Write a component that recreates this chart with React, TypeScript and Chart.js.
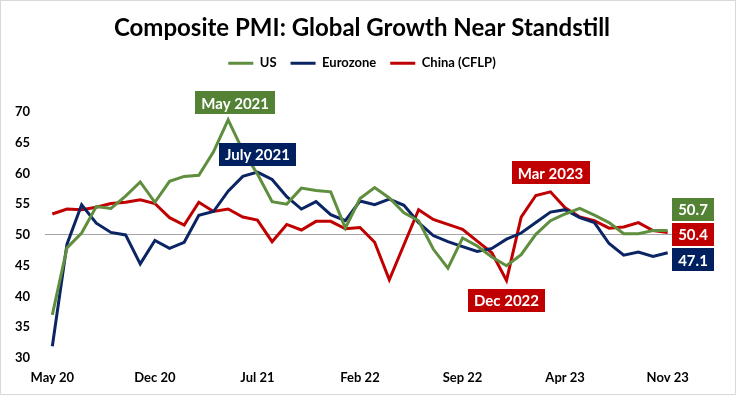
import React, { useEffect, useRef } from "react";
import { Chart, registerables } from "chart.js";

Chart.register(...registerables);

const months = [
  "May 20", "Jun 20", "Jul 20", "Aug 20", "Sep 20", "Oct 20", "Nov 20", "Dec 20",
  "Jan 21", "Feb 21", "Mar 21", "Apr 21", "May 21", "Jun 21", "Jul 21", "Aug 21",
  "Sep 21", "Oct 21", "Nov 21", "Dec 21", "Jan 22", "Feb 22", "Mar 22", "Apr 22",
  "May 22", "Jun 22", "Jul 22", "Aug 22", "Sep 22", "Oct 22", "Nov 22", "Dec 22",
  "Jan 23", "Feb 23", "Mar 23", "Apr 23", "May 23", "Jun 23", "Jul 23", "Aug 23",
  "Sep 23", "Oct 23", "Nov 23",
];

const usPMI = [
  37.0, 47.9, 50.3, 54.6, 54.3, 56.3, 58.6, 55.3, 58.7, 59.5, 59.7, 63.5, 68.7, 63.7,
  59.9, 55.4, 55.0, 57.6, 57.2, 57.0, 51.1, 55.9, 57.7, 56.0, 53.6, 52.3, 47.7, 44.6,
  49.5, 48.2, 46.4, 45.0, 46.8, 50.1, 52.3, 53.4, 54.3, 53.2, 52.0, 50.2, 50.2, 50.7, 50.7,
];

const eurozonePMI = [
  31.9, 48.5, 54.9, 51.9, 50.4, 50.0, 45.3, 49.1, 47.8, 48.8, 53.2, 53.8, 57.1, 59.5,
  60.2, 59.0, 56.2, 54.2, 55.4, 53.3, 52.3, 55.5, 54.9, 55.8, 54.8, 52.0, 49.9, 48.9,
  48.1, 47.3, 47.8, 49.3, 50.3, 52.0, 53.7, 54.1, 52.8, 52.0, 48.6, 46.7, 47.2, 46.5, 47.1,
];

const chinaPMI = [
  53.4, 54.2, 54.1, 54.5, 55.1, 55.3, 55.7, 55.1, 52.8, 51.6, 55.3, 53.8, 54.2, 52.9,
  52.4, 48.9, 51.7, 50.8, 52.2, 52.2, 51.0, 51.2, 48.8, 42.7, 48.4, 54.1, 52.5, 51.7,
  50.9, 49.0, 47.1, 42.6, 52.9, 56.4, 57.0, 54.4, 52.9, 52.3, 51.1, 51.3, 52.0, 50.7, 50.4,
];

const seriesNames = ["US", "Eurozone", "China (CFLP)"];
const lineColors = ["#5E8E3E", "#0B2463", "#C00000"];
const boxColors = ["#548235", "#002060", "#C00000"];
const yTicks = [30, 35, 40, 45, 50, 55, 60, 65, 70];
const labelEvery = 7;

const callouts = [
  { ds: 0, idx: 12, text: "May 2021", dx: 7, dy: -17 },
  { ds: 1, idx: 14, text: "July 2021", dx: 0, dy: -18 },
  { ds: 2, idx: 34, text: "Mar 2023", dx: 0, dy: -19 },
  { ds: 2, idx: 31, text: "Dec 2022", dx: 0, dy: 20 },
];
// vertical offsets of the end-value boxes (US, Eurozone, China)
const endLabelOffsets = [-21, 7, 2];

const FONT = "Lato, 'Open Sans', sans-serif";

function drawBox(ctx: CanvasRenderingContext2D, cx: number, cy: number, text: string, color: string, minW = 0) {
  ctx.save();
  ctx.font = `bold 15px ${FONT}`;
  const tw = ctx.measureText(text).width;
  const w = Math.max(tw + 12, minW);
  const h = 23;
  ctx.fillStyle = color;
  ctx.fillRect(Math.round(cx - w / 2), Math.round(cy - h / 2), Math.round(w), h);
  ctx.fillStyle = "#ffffff";
  ctx.textAlign = "center";
  ctx.textBaseline = "middle";
  ctx.fillText(text, cx, cy + 1);
  ctx.restore();
}

const calloutPlugin = {
  id: "callouts",
  afterDatasetsDraw(chart: any) {
    const ctx = chart.ctx as CanvasRenderingContext2D;
    const xs = chart.scales.x;
    const ys = chart.scales.y;
    callouts.forEach((c) => {
      const v = chart.data.datasets[c.ds].data[c.idx] as number;
      const x = xs.getPixelForValue(c.idx);
      const y = ys.getPixelForValue(v);
      drawBox(ctx, x + c.dx, y + c.dy, c.text, boxColors[c.ds]);
    });
    chart.data.datasets.forEach((d: any, i: number) => {
      const last = d.data[d.data.length - 1] as number;
      const y = ys.getPixelForValue(last) + endLabelOffsets[i];
      drawBox(ctx, chart.chartArea.right + 18, y, last.toFixed(1), boxColors[i], 36);
    });
  },
};

const legendHeightPlugin = {
  id: "legendHeight",
  beforeInit(chart: any) {
    const legend = chart.legend;
    if (!legend) return;
    const orig = legend.fit;
    legend.fit = function () {
      orig.call(this);
      this.height = 69;
    };
  },
};

export default function App() {
  const ref = useRef<HTMLCanvasElement>(null);

  useEffect(() => {
    document.body.style.margin = "0";
    const canvas = ref.current!;
    const chart = new Chart(canvas, {
      type: "line",
      data: {
        labels: months,
        datasets: [usPMI, eurozonePMI, chinaPMI].map((d, i) => ({
          label: seriesNames[i],
          data: d,
          borderColor: lineColors[i],
          backgroundColor: lineColors[i],
          borderWidth: 3,
          pointRadius: 0,
          tension: 0,
          yAxisID: "y",
        })),
      },
      options: {
        animation: false,
        responsive: false,
        layout: { padding: { left: 0, right: 12, top: 0, bottom: 0 } },
        plugins: {
          title: {
            display: true,
            text: "Composite PMI: Global Growth Near Standstill",
            color: "#000",
            font: { family: FONT, size: 24, weight: "bold" },
            padding: { top: 13, bottom: 0 },
          },
          legend: {
            display: true,
            position: "top",
            labels: {
              color: "#000",
              font: { family: FONT, size: 13, weight: "bold" },
              boxWidth: 25,
              boxHeight: 3,
              padding: 14,
              generateLabels: (ch: any) =>
                Chart.defaults.plugins.legend.labels
                  .generateLabels(ch)
                  .map((l: any) => ({ ...l, lineWidth: 0, fillStyle: l.strokeStyle })),
            },
          },
          tooltip: { enabled: false },
        },
        scales: {
          x: {
            offset: true,
            grid: { display: false, drawTicks: false },
            border: { display: false },
            afterFit: (axis: any) => {
              axis.height = 36;
            },
            ticks: {
              autoSkip: false,
              maxRotation: 0,
              color: "#000",
              padding: 12,
              font: { family: FONT, size: 13, weight: "bold" },
              callback: (_v: any, i: number) => (i % labelEvery === 0 ? months[i] : ""),
            },
          },
          y: {
            position: "left",
            min: yTicks[0],
            max: yTicks[yTicks.length - 1],
            afterBuildTicks: (axis: any) => {
              axis.ticks = yTicks.map((v) => ({ value: v }));
            },
            afterFit: (axis: any) => {
              axis.width = 44;
            },
            grid: {
              drawTicks: false,
              color: (c: any) => (c.tick && c.tick.value === 50 ? "#A6A6A6" : "rgba(0,0,0,0)"),
              lineWidth: 1,
            },
            border: { display: false },
            ticks: {
              color: "#000",
              padding: 15,
              font: { family: FONT, size: 13, weight: "bold" },
            },
          },
          yRight: {
            position: "right",
            display: true,
            min: yTicks[0],
            max: yTicks[yTicks.length - 1],
            grid: { display: false, drawTicks: false },
            border: { display: false },
            ticks: { display: false },
            afterFit: (axis: any) => {
              axis.width = 48;
            },
          },
        },
      },
      plugins: [calloutPlugin, legendHeightPlugin],
    });
    return () => chart.destroy();
  }, []);

  return (
    <div
      style={{
        position: "fixed",
        left: 0,
        top: 0,
        width: 736,
        height: 395,
        boxSizing: "border-box",
        border: "1px solid #D9D9D9",
        background: "#fff",
        overflow: "hidden",
      }}
    >
      <canvas ref={ref} width={734} height={393} style={{ display: "block" }} />
    </div>
  );
}
